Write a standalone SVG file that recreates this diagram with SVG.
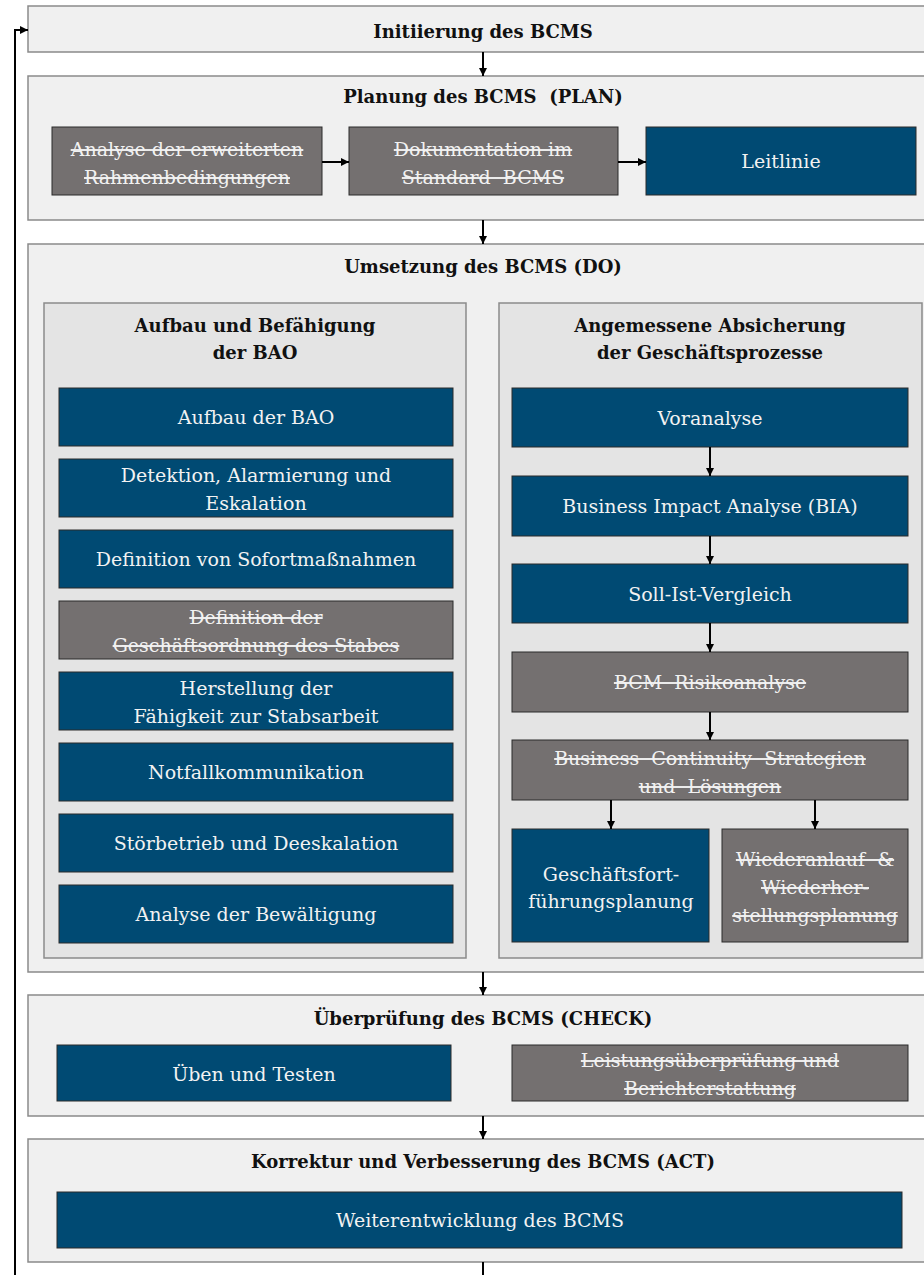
<svg xmlns="http://www.w3.org/2000/svg" width="924" height="1275" viewBox="0 0 924 1275">
<style>
.phase{fill:#f0f0f0;stroke:#8a8a8a;stroke-width:1.5}
.sub{fill:#e4e4e4;stroke:#8a8a8a;stroke-width:1.5}
.blue{fill:#004a73;stroke:#2a2a2a;stroke-width:1}
.gray{fill:#747070;stroke:#2a2a2a;stroke-width:1}
.title{font-family:"DejaVu Serif","Liberation Serif",serif;font-weight:bold;font-size:18px;fill:#111;text-anchor:middle}
.lbl{font-family:"DejaVu Serif","Liberation Serif",serif;font-size:19px;fill:#f2f2f2;text-anchor:middle}
.del{text-decoration:line-through;white-space:pre}
.con{stroke:#000;stroke-width:2;fill:none}
</style>
<defs>
<marker id="ah" markerUnits="userSpaceOnUse" markerWidth="9" markerHeight="9" refX="8" refY="4" orient="auto">
<path d="M0,0 L8,4 L0,8 z" fill="#000"/>
</marker>
</defs>

<g id="initiierung">
<rect class="phase" x="28" y="6" width="910" height="46"/>
<text class="title" x="483" y="38">Initiierung des BCMS</text>
</g>

<g id="plan">
<rect class="phase" x="28" y="76" width="910" height="144"/>
<text class="title" x="483" y="103" style="white-space:pre">Planung des BCMS  (PLAN)</text>
</g>
<g id="analyse-rahmen">
<rect class="gray" x="52" y="127" width="270" height="68"/>
<text class="lbl del" x="187" y="156">Analyse der erweiterten</text>
<text class="lbl del" x="187" y="184">Rahmenbedingungen</text>
</g>
<g id="dokumentation">
<rect class="gray" x="349" y="127" width="269" height="68"/>
<text class="lbl del" x="483" y="156">Dokumentation im</text>
<text class="lbl del" x="483" y="184">Standard  BCMS</text>
</g>
<g id="leitlinie">
<rect class="blue" x="646" y="127" width="270" height="68"/>
<text class="lbl" x="781" y="168">Leitlinie</text>
</g>

<g id="do">
<rect class="phase" x="28" y="244" width="910" height="728"/>
<text class="title" x="483" y="273">Umsetzung des BCMS (DO)</text>
</g>

<g id="bao">
<rect class="sub" x="44" y="303" width="422" height="655"/>
<text class="title" x="255" y="332">Aufbau und Befähigung</text>
<text class="title" x="255" y="359">der BAO</text>
</g>
<g id="aufbau-bao">
<rect class="blue" x="59" y="388" width="394" height="58"/>
<text class="lbl" x="256" y="424">Aufbau der BAO</text>
</g>
<g id="detektion">
<rect class="blue" x="59" y="459" width="394" height="58"/>
<text class="lbl" x="256" y="482">Detektion, Alarmierung und</text>
<text class="lbl" x="256" y="510">Eskalation</text>
</g>
<g id="sofortmassnahmen">
<rect class="blue" x="59" y="530" width="394" height="58"/>
<text class="lbl" x="256" y="566">Definition von Sofortmaßnahmen</text>
</g>
<g id="geschaeftsordnung">
<rect class="gray" x="59" y="601" width="394" height="58"/>
<text class="lbl del" x="256" y="624">Definition der</text>
<text class="lbl del" x="256" y="652">Geschäftsordnung des Stabes</text>
</g>
<g id="stabsarbeit">
<rect class="blue" x="59" y="672" width="394" height="58"/>
<text class="lbl" x="256" y="695">Herstellung der</text>
<text class="lbl" x="256" y="723">Fähigkeit zur Stabsarbeit</text>
</g>
<g id="notfallkommunikation">
<rect class="blue" x="59" y="743" width="394" height="58"/>
<text class="lbl" x="256" y="779">Notfallkommunikation</text>
</g>
<g id="stoerbetrieb">
<rect class="blue" x="59" y="814" width="394" height="58"/>
<text class="lbl" x="256" y="850">Störbetrieb und Deeskalation</text>
</g>
<g id="bewaeltigung">
<rect class="blue" x="59" y="885" width="394" height="58"/>
<text class="lbl" x="256" y="921">Analyse der Bewältigung</text>
</g>

<g id="absicherung">
<rect class="sub" x="499" y="303" width="423" height="655"/>
<text class="title" x="710" y="332">Angemessene Absicherung</text>
<text class="title" x="710" y="359">der Geschäftsprozesse</text>
</g>
<g id="voranalyse">
<rect class="blue" x="512" y="388" width="396" height="59"/>
<text class="lbl" x="710" y="425">Voranalyse</text>
</g>
<g id="bia">
<rect class="blue" x="512" y="476" width="396" height="60"/>
<text class="lbl" x="710" y="513">Business Impact Analyse (BIA)</text>
</g>
<g id="soll-ist">
<rect class="blue" x="512" y="564" width="396" height="59"/>
<text class="lbl" x="710" y="601">Soll-Ist-Vergleich</text>
</g>
<g id="risikoanalyse">
<rect class="gray" x="512" y="652" width="396" height="60"/>
<text class="lbl del" x="710" y="689">BCM  Risikoanalyse</text>
</g>
<g id="strategien">
<rect class="gray" x="512" y="740" width="396" height="60"/>
<text class="lbl del" x="710" y="765">Business  Continuity  Strategien</text>
<text class="lbl del" x="710" y="793">und  Lösungen</text>
</g>
<g id="fortfuehrung">
<rect class="blue" x="512" y="829" width="197" height="113"/>
<text class="lbl" x="611" y="881">Geschäftsfort-</text>
<text class="lbl" x="611" y="908">führungsplanung</text>
</g>
<g id="wiederanlauf">
<rect class="gray" x="722" y="829" width="186" height="113"/>
<text class="lbl del" x="815" y="866">Wiederanlauf  &amp;</text>
<text class="lbl del" x="815" y="894">Wiederher-</text>
<text class="lbl del" x="815" y="922">stellungsplanung</text>
</g>

<g id="check">
<rect class="phase" x="28" y="995" width="910" height="121"/>
<text class="title" x="483" y="1025">Überprüfung des BCMS (CHECK)</text>
</g>
<g id="ueben">
<rect class="blue" x="57" y="1045" width="394" height="56"/>
<text class="lbl" x="254" y="1081">Üben und Testen</text>
</g>
<g id="leistung">
<rect class="gray" x="512" y="1045" width="396" height="56"/>
<text class="lbl del" x="710" y="1067">Leistungsüberprüfung und</text>
<text class="lbl del" x="710" y="1095">Berichterstattung</text>
</g>

<g id="act">
<rect class="phase" x="28" y="1139" width="910" height="123"/>
<text class="title" x="483" y="1168">Korrektur und Verbesserung des BCMS (ACT)</text>
</g>
<g id="weiterentwicklung">
<rect class="blue" x="57" y="1192" width="845" height="56"/>
<text class="lbl" x="480" y="1227">Weiterentwicklung des BCMS</text>
</g>

<g id="connectors">
<line class="con" x1="483" y1="52" x2="483" y2="76" marker-end="url(#ah)"/>
<line class="con" x1="322" y1="162" x2="349" y2="162" marker-end="url(#ah)"/>
<line class="con" x1="618" y1="162" x2="646" y2="162" marker-end="url(#ah)"/>
<line class="con" x1="483" y1="220" x2="483" y2="244" marker-end="url(#ah)"/>
<line class="con" x1="710" y1="447" x2="710" y2="476" marker-end="url(#ah)"/>
<line class="con" x1="710" y1="536" x2="710" y2="564" marker-end="url(#ah)"/>
<line class="con" x1="710" y1="623" x2="710" y2="652" marker-end="url(#ah)"/>
<line class="con" x1="710" y1="712" x2="710" y2="740" marker-end="url(#ah)"/>
<line class="con" x1="611" y1="800" x2="611" y2="829" marker-end="url(#ah)"/>
<line class="con" x1="815" y1="800" x2="815" y2="829" marker-end="url(#ah)"/>
<line class="con" x1="483" y1="972" x2="483" y2="995" marker-end="url(#ah)"/>
<line class="con" x1="483" y1="1116" x2="483" y2="1139" marker-end="url(#ah)"/>
<line class="con" x1="483" y1="1262" x2="483" y2="1275"/>
<polyline class="con" points="15,1275 15,30 28,30" stroke-width="2.5" marker-end="url(#ah)"/>
</g>
</svg>
